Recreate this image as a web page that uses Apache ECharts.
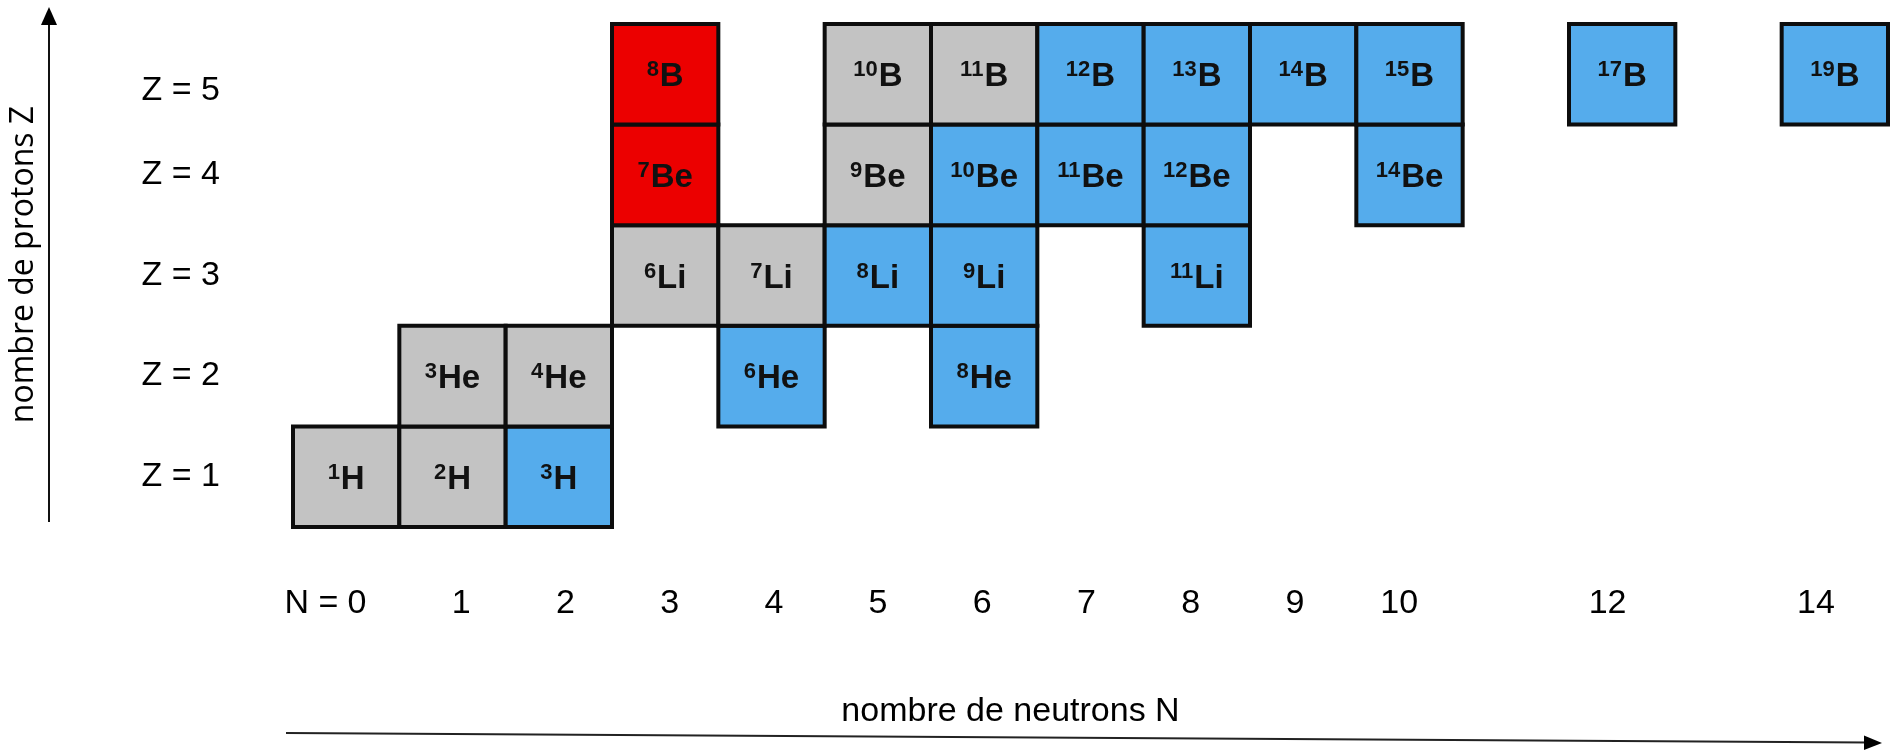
<!DOCTYPE html>
<html>
<head>
<meta charset="utf-8">
<script src="https://cdn.jsdelivr.net/npm/echarts@6/dist/echarts.min.js"></script>
<style>
  html, body { margin: 0; padding: 0; background: #fff; }
  #chart { width: 1893px; height: 750px; }
</style>
</head>
<body>
<div id="chart"></div>
<script>
// element symbol by proton number Z (index = Z - 1)
const elements = ["H", "He", "Li", "Be", "B"];

// isotopes: neutron number, proton number, kind
const isoN = [0, 1, 2,  1, 2, 4, 6,  3, 4, 5, 6, 8,  3, 5, 6, 7, 8, 10,  3, 5, 6, 7, 8, 9, 10, 12, 14];
const isoZ = [1, 1, 1,  2, 2, 2, 2,  3, 3, 3, 3, 3,  4, 4, 4, 4, 4, 4,   5, 5, 5, 5, 5, 5, 5, 5, 5];
const isoKind = [
  "stable", "stable", "unstable",
  "stable", "stable", "unstable", "unstable",
  "stable", "stable", "unstable", "unstable", "unstable",
  "red", "stable", "unstable", "unstable", "unstable", "unstable",
  "red", "stable", "stable", "unstable", "unstable", "unstable", "unstable", "unstable", "unstable"
];

// tick labels
const nTicks = [0, 1, 2, 3, 4, 5, 6, 7, 8, 9, 10, 12, 14];
const zTicks = [1, 2, 3, 4, 5];

const kindColor = { stable: "#c3c3c3", unstable: "#55acec", red: "#ec0000" };

const cells = isoN.map((n, i) => [n, isoZ[i], isoKind[i]]);

const chart = echarts.init(document.getElementById("chart"));

function renderCell(params, api) {
  const n = api.value(0);
  const z = api.value(1);
  const kind = cells[params.dataIndex][2];
  const c = api.coord([n, z]);
  const s = api.size([1, 1]);
  return {
    type: "rect",
    shape: { x: c[0] - s[0] / 2, y: c[1] - s[1] / 2, width: s[0], height: s[1] },
    style: { fill: kindColor[kind], stroke: "#0d0d0d", lineWidth: 4 },
    textContent: {
      style: {
        text: "{sup|" + (n + z) + "}{el|" + elements[z - 1] + "}",
        rich: {
          sup: {
            fontFamily: "Liberation Sans", fontWeight: "bold", fontSize: 22,
            fill: "#111", lineHeight: 36, verticalAlign: "top", padding: [0, 1, 0, 0]
          },
          el: {
            fontFamily: "Liberation Sans", fontWeight: "bold", fontSize: 33,
            fill: "#111", lineHeight: 36
          }
        }
      }
    },
    textConfig: { position: "inside", offset: [0, 3] }
  };
}

chart.setOption({
  animation: false,
  grid: { left: 293, right: 5, top: 24, bottom: 223 },
  xAxis: [
    {
      type: "value", min: -0.5, max: 14.5,
      axisLine: { show: false }, axisTick: { show: false },
      axisLabel: { show: false }, splitLine: { show: false }
    },
    {
      // labels are placed slightly off the cell centres in the original
      type: "value", min: -0.614, max: 14.691, position: "bottom",
      axisLine: { show: false }, axisTick: { show: false }, splitLine: { show: false },
      axisLabel: {
        customValues: nTicks,
        margin: 60,
        fontFamily: "Liberation Sans", fontSize: 34, color: "#000",
        formatter: v => v === 0 ? "{pre|N = }{v|0}{post|}" : String(v),
        rich: {
          pre: { width: 63, align: "right", fontFamily: "Liberation Sans", fontSize: 34, color: "#000" },
          v: { fontFamily: "Liberation Sans", fontSize: 34, color: "#000" },
          post: { width: 63 }
        }
      },
      name: "nombre de neutrons N",
      nameLocation: "middle",
      nameGap: 168,
      nameTextStyle: {
        fontFamily: "Liberation Sans", fontSize: 34, color: "#000",
        padding: [0, 160, 0, 0]
      }
    }
  ],
  yAxis: {
    type: "value", min: 0.5, max: 5.5,
    axisLine: { show: false }, axisTick: { show: false }, splitLine: { show: false },
    axisLabel: {
      customValues: zTicks,
      margin: 73,
      fontFamily: "Liberation Sans", fontSize: 34, color: "#000",
      formatter: v => v === 5 ? "{low|Z = 5}" : "Z = " + v,
      rich: {
        low: { fontFamily: "Liberation Sans", fontSize: 34, color: "#000", padding: [32, 0, 0, 0] }
      }
    },
    name: "nombre de protons Z",
    nameLocation: "middle",
    nameRotate: 90,
    nameGap: 253,
    nameTextStyle: { fontFamily: "Open Sans", fontSize: 32, color: "#000", padding: [0, 0, 0, 22] }
  },
  graphic: [
    // vertical axis arrow
    { type: "line", shape: { x1: 49, y1: 522, x2: 49, y2: 22 }, style: { stroke: "#111", lineWidth: 2 } },
    { type: "polygon", shape: { points: [[49, 7], [41, 25], [57, 25]] }, style: { fill: "#000" } },
    // horizontal axis arrow (slightly tilted in the original)
    { type: "line", shape: { x1: 286, y1: 733, x2: 1868, y2: 742.5 }, style: { stroke: "#222", lineWidth: 2 } },
    { type: "polygon", shape: { points: [[1882, 743], [1864, 735.5], [1864, 750]] }, style: { fill: "#000" } }
  ],
  series: [
    {
      type: "custom",
      xAxisIndex: 0,
      yAxisIndex: 0,
      renderItem: renderCell,
      data: cells.map(c => [c[0], c[1]])
    }
  ]
});
</script>
</body>
</html>
